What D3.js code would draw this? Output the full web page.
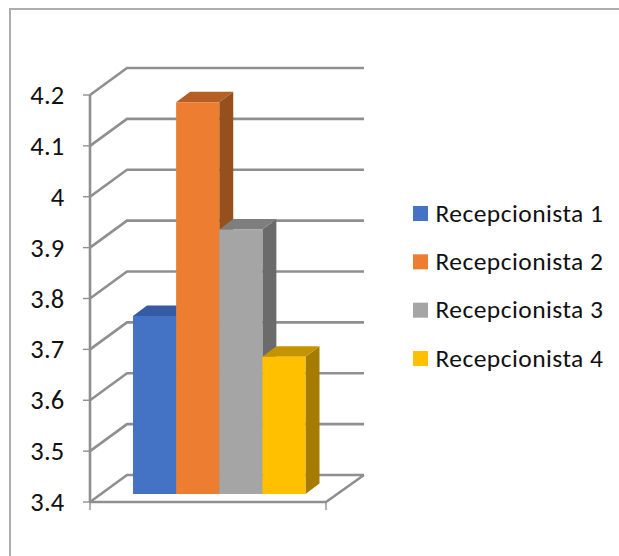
<!DOCTYPE html>
<html><head><meta charset="utf-8">
<script src="https://cdn.jsdelivr.net/npm/d3@7"></script>
<style>html,body{margin:0;padding:0;background:#fff}svg{display:block}</style>
</head><body><svg id="c" width="619" height="556"></svg>
<script>
const series = ["Recepcionista 1","Recepcionista 2","Recepcionista 3","Recepcionista 4"];
const values = [3.75,4.17,3.92,3.67];
const colors = ["#4472c4","#ed7d31","#a5a5a5","#ffc000"];
const topColors = ["#345ba3","#b55f25","#7e7e7e","#c49400"];
const sideColors = ["#2d4f8f","#96501e","#6b6b6b","#a67c00"];
const ticks = [3.4,3.5,3.6,3.7,3.8,3.9,4,4.1,4.2];

const svg = d3.select("#c");
const font = "Carlito, Calibri, 'Open Sans', 'Noto Sans', sans-serif";
const grid = "#8f8f8f";
const yFront = d3.scaleLinear().domain([3.4,4.2]).range([502,95]);
const xFloor = d3.scaleLinear().domain([0,1]).range([90,326]);
const depth = {x:37,y:-27};

// border
svg.append("path").attr("d","M10,556V9H619").attr("fill","none").attr("stroke","#adadad").attr("stroke-width",2);

// walls: gridlines
const g = svg.append("g");
g.selectAll("path.grid").data(ticks).join("path")
 .attr("d",t=>{const y=yFront(t);return `M${xFloor(0)},${y}L${xFloor(0)+depth.x},${y+depth.y}H${xFloor(1)+38}`;})
 .attr("fill","none").attr("stroke",grid).attr("stroke-width",2.6);
// floor front + right edge
g.append("path").attr("d",`M${xFloor(0)},${yFront(3.4)}H${xFloor(1)}L${xFloor(1)+38},${yFront(3.4)+depth.y}`).attr("fill","none").attr("stroke",grid).attr("stroke-width",2.6);
// vertical axis
g.append("line").attr("x1",xFloor(0)).attr("x2",xFloor(0)).attr("y1",yFront(4.2)).attr("y2",yFront(3.4)).attr("stroke",grid).attr("stroke-width",2.6);
// ticks
g.selectAll("line.t").data(ticks).join("line").attr("class","t")
 .attr("x1",xFloor(0)-7).attr("x2",xFloor(0)).attr("y1",t=>yFront(t)).attr("y2",t=>yFront(t)).attr("stroke",grid).attr("stroke-width",1.4);
[0,1].forEach(v=>g.append("line").attr("x1",xFloor(v)).attr("x2",xFloor(v)).attr("y1",yFront(3.4)).attr("y2",yFront(3.4)+8).attr("stroke",grid).attr("stroke-width",1.4));
// tick labels
svg.selectAll("text.y").data(ticks).join("text").attr("class","y")
 .attr("x",64.5).attr("y",t=>yFront(t)+9).attr("text-anchor","end")
 .attr("font-family",font).attr("font-size",26.5).attr("letter-spacing",0.2).attr("fill","#111").text(d=>d);

// bars
const xBar = d3.scaleBand().domain(series).range([133,305.5]);
const yBar = d3.scaleLinear().domain([3.4,4.2]).range([494,87]);
const dx=14, dy=-10.5;
const bars = svg.selectAll("g.bar").data(series).join("g").attr("class","bar");
bars.append("path").attr("fill",(d,i)=>sideColors[i]).attr("d",(d,i)=>{
  const x=xBar(d)+xBar.bandwidth(),t=yBar(values[i]),b=yBar(3.4);
  return `M${x},${t}l${dx},${dy}V${b+dy}L${x},${b}Z`;});
bars.append("path").attr("fill",(d,i)=>topColors[i]).attr("d",(d,i)=>{
  const x=xBar(d),w=xBar.bandwidth(),t=yBar(values[i]);
  return `M${x},${t}l${dx},${dy}h${w}l${-dx},${-dy}Z`;});
bars.append("rect").attr("fill",(d,i)=>colors[i])
 .attr("x",d=>xBar(d)).attr("width",xBar.bandwidth())
 .attr("y",(d,i)=>yBar(values[i])).attr("height",(d,i)=>yBar(3.4)-yBar(values[i]));

// legend
const yLeg = d3.scalePoint().domain(series).range([213.5,358.5]);
const leg = svg.selectAll("g.leg").data(series).join("g").attr("class","leg");
leg.append("rect").attr("x",413).attr("width",15).attr("height",15).attr("y",d=>yLeg(d)-7.5).attr("fill",(d,i)=>colors[i]);
leg.append("text").attr("x",435.5).attr("y",d=>yLeg(d)+8).attr("font-family",font).attr("font-size",25.5).attr("letter-spacing",0.45).attr("fill","#111").text(d=>d);
</script></body></html>
